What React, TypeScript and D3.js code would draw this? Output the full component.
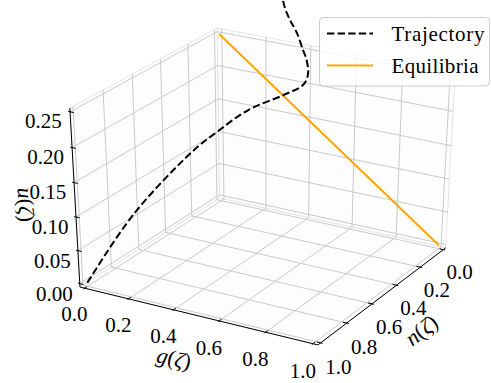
import React from 'react';
import * as d3 from 'd3';

// ---- data ----
const gTicks = [0, 0.2, 0.4, 0.6, 0.8, 1.0];
const nTicks = [0, 0.2, 0.4, 0.6, 0.8, 1.0];
const uTicks = [0, 0.05, 0.1, 0.15, 0.2, 0.25];
const gTickLabels = ['0.0', '0.2', '0.4', '0.6', '0.8', '1.0'];
const nTickLabels = ['0.0', '0.2', '0.4', '0.6', '0.8', '1.0'];
const uTickLabels = ['0.00', '0.05', '0.10', '0.15', '0.20', '0.25'];

const trajG = [0, 0.084, 0.190, 0.235, 0.290, 0.354, 0.391, 0.400, 0.394, 0.377, 0.349, 0.319, 0.296, 0.278];
const trajN = [1, 0.791, 0.526, 0.414, 0.274, 0.114, 0.022, 0, 0, 0, 0, 0, 0, 0];
const trajU = [0, 0.081, 0.149, 0.168, 0.187, 0.195, 0.202, 0.215, 0.236, 0.250, 0.273, 0.289, 0.305, 0.329];

const eqG = [0, 1];
const eqN = [0, 0];
const eqU = [0.25, 0];

const seriesNames = ['Trajectory', 'Equilibria'];
const gLim = [0, 1];
const nLim = [1, 0];
const uLim = [0, 0.25];

// ---- view ----
const W = 491;
const H = 383;
const ELEV = 30;
const AZIM = -60;
const DIST = 10;
const h = 0.5 + 1 / 48; // pane half-size (normalized)
const TD = 1 / 12; // tick delta
const FONT = "'Liberation Serif', 'Times New Roman', serif";

function makeProjector() {
  const e = (ELEV * Math.PI) / 180;
  const a = (AZIM * Math.PI) / 180;
  const w = [Math.cos(e) * Math.cos(a), Math.cos(e) * Math.sin(a), Math.sin(e)];
  let ux = -w[1];
  let uy = w[0];
  const un = Math.hypot(ux, uy);
  ux /= un;
  uy /= un;
  const u = [ux, uy, 0];
  const v = [
    w[1] * u[2] - w[2] * u[1],
    w[2] * u[0] - w[0] * u[2],
    w[0] * u[1] - w[1] * u[0],
  ];
  const sx = d3.scaleLinear().domain([-0.095, 0.09]).range([15.3, 503.1]);
  const sy = d3.scaleLinear().domain([-0.095, 0.09]).range([367.2, 4.4]);
  return (q: number[]): [number, number] => {
    const X = u[0] * q[0] + u[1] * q[1] + u[2] * q[2];
    const Y = v[0] * q[0] + v[1] * q[1] + v[2] * q[2];
    const Z = w[0] * q[0] + w[1] * q[1] + w[2] * q[2] - DIST;
    return [sx(X / -Z), sy(Y / -Z)];
  };
}

export default function App() {
  const P = makeProjector();
  const xs = d3.scaleLinear().domain(gLim).range([-0.5, 0.5]);
  const ys = d3.scaleLinear().domain(nLim).range([-0.5, 0.5]);
  const zs = d3.scaleLinear().domain(uLim).range([-0.5, 0.5]);

  const poly = (pts: number[][]) => pts.map((p) => P(p).join(',')).join(' ');
  const seg = (p1: number[], p2: number[], key: string, stroke: string, sw: number) => {
    const [x1, y1] = P(p1);
    const [x2, y2] = P(p2);
    return <line key={key} x1={x1} y1={y1} x2={x2} y2={y2} stroke={stroke} strokeWidth={sw} />;
  };
  const lineGen = d3.line<[number, number]>().x((d) => d[0]).y((d) => d[1]);
  const smoothGen = d3
    .line<[number, number]>()
    .x((d) => d[0])
    .y((d) => d[1])
    .curve(d3.curveCatmullRom.alpha(0.5));

  // panes
  const panes = [
    [[-h, -h, -h], [-h, h, -h], [-h, h, h], [-h, -h, h]],
    [[-h, h, -h], [h, h, -h], [h, h, h], [-h, h, h]],
    [[-h, -h, -h], [h, -h, -h], [h, h, -h], [-h, h, -h]],
  ];

  // gridlines
  const grid: number[][][] = [];
  gTicks.forEach((t) => {
    const x = xs(t);
    grid.push([[x, -h, -h], [x, h, -h], [x, h, h]]);
  });
  nTicks.forEach((t) => {
    const y = ys(t);
    grid.push([[h, y, -h], [-h, y, -h], [-h, y, h]]);
  });
  uTicks.forEach((t) => {
    const z = zs(t);
    grid.push([[-h, -h, z], [-h, h, z], [h, h, z]]);
  });

  const traj: [number, number][] = trajG.map((g, i) => P([xs(g), ys(trajN[i]), zs(trajU[i])]));
  const eq: [number, number][] = eqG.map((g, i) => P([xs(g), ys(eqN[i]), zs(eqU[i])]));

  const LT = 0.075; // tick label offset
  const tickFs = 21;
  const capOff = 14;

  const gAxisA = P([-h, -h, -h]);
  const gAxisB = P([h, -h, -h]);
  const nAxisB = P([h, h, -h]);
  const uAxisT = P([-h, -h, h]);
  const ang = (p1: number[], p2: number[]) => {
    let d = (Math.atan2(p2[1] - p1[1], p2[0] - p1[0]) * 180) / Math.PI;
    d = ((d % 180) + 180) % 180;
    if (d > 90) d -= 180;
    return d;
  };
  const gAng = ang(gAxisA, gAxisB);
  const nAng = ang(gAxisB, nAxisB);
  const uAng = ang(gAxisA, uAxisT);

  const LA = 0.163;
  const gLabPos = P([0, -h - LA, -h - LA]);
  const nLabPos = P([h + LA, 0, -h - LA]);
  const uLabPos = P([-h - 0.13, -h - 0.13, 0]);

  const axLabel = (name: string, pos: [number, number], angle: number) => (
    <text
      x={pos[0]}
      y={pos[1]}
      transform={`rotate(${angle},${pos[0]},${pos[1]})`}
      textAnchor="middle"
      dominantBaseline="central"
      fontSize={22}
      fontFamily={FONT}
      fill="#000"
    >
      <tspan fontStyle="italic">{name}</tspan>(<tspan fontStyle="italic">ζ</tspan>)
    </text>
  );

  return (
    <svg
      width={W}
      height={H}
      style={{ position: 'absolute', left: 0, top: 0, overflow: 'hidden', background: '#fff' }}
    >
      <rect x={0} y={0} width={W} height={H} fill="#fff" />
      {panes.map((p, i) => (
        <polygon key={'pane' + i} points={poly(p)} fill="#fdfdfd" stroke="#e6e6e6" strokeWidth={1} />
      ))}
      {grid.map((g, i) => (
        <path key={'grid' + i} d={lineGen(g.map((p) => P(p))) || ''} fill="none" stroke="#c4c4c4" strokeWidth={0.9} />
      ))}
      {/* axis lines */}
      {seg([-h, -h, -h], [h, -h, -h], 'ax-g', '#000', 1)}
      {seg([h, -h, -h], [h, h, -h], 'ax-n', '#000', 1)}
      {seg([-h, -h, -h], [-h, -h, h], 'ax-u', '#000', 1)}
      {/* ticks */}
      {gTicks.map((t, i) => seg([xs(t), -h - 0.1 * TD, -h], [xs(t), -h + 0.2 * TD, -h], 'tg' + i, '#000', 1))}
      {nTicks.map((t, i) => seg([h + 0.1 * TD, ys(t), -h], [h - 0.2 * TD, ys(t), -h], 'tn' + i, '#000', 1))}
      {uTicks.map((t, i) => seg([-h - 0.1 * TD, -h, zs(t)], [-h + 0.2 * TD, -h, zs(t)], 'tu' + i, '#000', 1))}
      {/* tick labels */}
      {gTicks.map((t, i) => {
        const [x, y] = P([xs(t), -h - LT, -h - LT]);
        return (
          <text key={'lg' + i} x={x} y={y + capOff} textAnchor="middle" fontSize={tickFs} fontFamily={FONT} fill="#000">
            {gTickLabels[i]}
          </text>
        );
      })}
      {nTicks.map((t, i) => {
        const [x, y] = P([h + LT, ys(t), -h - LT]);
        return (
          <text key={'ln' + i} x={x} y={y + capOff} textAnchor="middle" fontSize={tickFs} fontFamily={FONT} fill="#000">
            {nTickLabels[i]}
          </text>
        );
      })}
      {uTicks.map((t, i) => {
        const [x, y] = P([-h - LT, -h - LT, zs(t)]);
        return (
          <text key={'lu' + i} x={x + 2} y={y + capOff} textAnchor="middle" fontSize={tickFs} fontFamily={FONT} fill="#000">
            {uTickLabels[i]}
          </text>
        );
      })}
      {axLabel('g', gLabPos, gAng)}
      {axLabel('n', nLabPos, nAng)}
      {axLabel('u', uLabPos, uAng)}
      {/* data */}
      <path d={lineGen(eq) || ''} fill="none" stroke="#ffa500" strokeWidth={2} />
      <path d={smoothGen(traj) || ''} fill="none" stroke="#000" strokeWidth={2} strokeDasharray="7.4,3.2" />
      {/* legend */}
      <g>
        <rect x={319.5} y={17.5} width={170} height={68.5} rx={4} ry={4} fill="#fff" fillOpacity={0.8} stroke="#cccccc" strokeWidth={1} />
        <line x1={327} y1={33.5} x2={373} y2={33.5} stroke="#000" strokeWidth={2} strokeDasharray="7.4,3.2" />
        <line x1={327} y1={65.5} x2={373} y2={65.5} stroke="#ffa500" strokeWidth={2} />
        <text x={391.5} y={40.5} fontSize={21} fontFamily={FONT} fill="#000" textLength={93} lengthAdjust="spacing">
          {seriesNames[0]}
        </text>
        <text x={391.5} y={72.5} fontSize={21} fontFamily={FONT} fill="#000" textLength={87} lengthAdjust="spacing">
          {seriesNames[1]}
        </text>
      </g>
    </svg>
  );
}
